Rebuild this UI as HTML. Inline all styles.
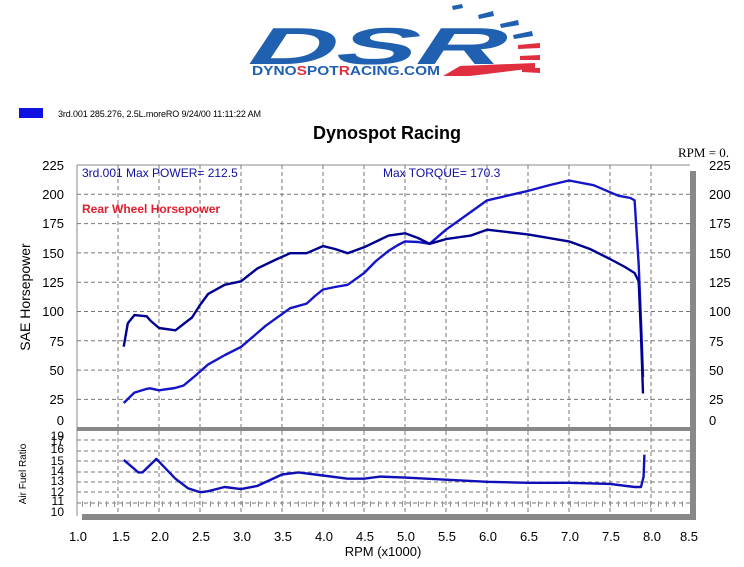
<!DOCTYPE html>
<html><head><meta charset="utf-8"><style>
html,body{margin:0;padding:0;background:#fff;}
svg{display:block;}
</style></head><body>
<svg width="744" height="567" viewBox="0 0 744 567" xmlns="http://www.w3.org/2000/svg" font-family="Liberation Sans, sans-serif">
<!-- logo -->
<g>
<text x="248" y="64" font-size="52" font-weight="bold" font-style="italic" fill="#2060b0" textLength="255" lengthAdjust="spacingAndGlyphs" transform="skewX(-12) translate(13,0)">DSR</text>
<text x="252" y="75" font-size="13" font-weight="bold" fill="#2060b0" textLength="188" lengthAdjust="spacingAndGlyphs">DYNO<tspan fill="#e03040">S</tspan>POT<tspan fill="#e03040">R</tspan>ACING.COM</text>
<polygon points="443,76 460,66 535,63 535,68 470,76" fill="#e03040"/>
<polygon points="452,6 462,4 463,8 453,10" fill="#2060b0"/>
<polygon points="478,15 493,11 494,16 479,19" fill="#2060b0"/>
<polygon points="500,24 518,20 519,25 501,28" fill="#2060b0"/>
<polygon points="513,35 532,31 533,36 514,39" fill="#2060b0"/>
<polygon points="518,45 540,43 540,48 518,49" fill="#e03040"/>
<polygon points="520,56 540,55 540,60 520,60" fill="#e03040"/>
<polygon points="522,68 540,68 540,73 522,72" fill="#e03040"/>
</g>
<!-- legend -->
<rect x="19" y="108" width="24" height="10" fill="#1010e0"/>
<text x="58" y="117" font-size="9" fill="#000" textLength="203" lengthAdjust="spacing">3rd.001  285.276, 2.5L.moreRO  9/24/00 11:11:22 AM</text>
<text x="387" y="139" font-size="18" font-weight="bold" text-anchor="middle" fill="#000">Dynospot Racing</text>
<text x="678" y="157" font-size="13" font-family="Liberation Serif, serif" fill="#000">RPM = 0.</text>

<!-- main grid -->
<g stroke="#777" stroke-width="1" stroke-dasharray="4,3" fill="none">
<line x1="77" y1="194.3" x2="690" y2="194.3"/><line x1="77" y1="223.6" x2="690" y2="223.6"/>
<line x1="77" y1="252.9" x2="690" y2="252.9"/><line x1="77" y1="282.2" x2="690" y2="282.2"/>
<line x1="77" y1="311.5" x2="690" y2="311.5"/><line x1="77" y1="340.8" x2="690" y2="340.8"/>
<line x1="77" y1="370.1" x2="690" y2="370.1"/><line x1="77" y1="399.4" x2="690" y2="399.4"/>
<line x1="118" y1="165" x2="118" y2="516"/><line x1="159" y1="165" x2="159" y2="516"/>
<line x1="200" y1="165" x2="200" y2="516"/><line x1="241" y1="165" x2="241" y2="516"/>
<line x1="282" y1="165" x2="282" y2="516"/><line x1="323" y1="165" x2="323" y2="516"/>
<line x1="364" y1="165" x2="364" y2="516"/><line x1="405" y1="165" x2="405" y2="516"/>
<line x1="446" y1="165" x2="446" y2="516"/><line x1="487" y1="165" x2="487" y2="516"/>
<line x1="528" y1="165" x2="528" y2="516"/><line x1="569" y1="165" x2="569" y2="516"/>
<line x1="610" y1="165" x2="610" y2="516"/><line x1="651" y1="165" x2="651" y2="516"/>
<!-- AFR grid -->
<line x1="77" y1="440" x2="690" y2="440"/><line x1="77" y1="451" x2="690" y2="451"/>
<line x1="77" y1="461" x2="690" y2="461"/><line x1="77" y1="472" x2="690" y2="472"/>
<line x1="77" y1="482" x2="690" y2="482"/><line x1="77" y1="492" x2="690" y2="492"/>
<line x1="77" y1="503" x2="690" y2="503"/>
</g>
<g stroke="#999" stroke-width="1" stroke-dasharray="1,7">
<line x1="82" y1="504" x2="690" y2="504" stroke-width="6"/>
</g>
<line x1="77" y1="165" x2="690" y2="165" stroke="#888"/>
<line x1="77" y1="165" x2="77" y2="516" stroke="#888"/>
<rect x="77" y="427" width="619" height="4" fill="#888"/>
<rect x="690" y="171" width="6" height="349" fill="#888"/>
<rect x="82" y="514" width="614" height="6" fill="#888"/>
<!-- left labels -->
<g font-size="13" fill="#000" text-anchor="end">
<text x="64" y="170">225</text><text x="64" y="199">200</text><text x="64" y="228">175</text>
<text x="64" y="258">150</text><text x="64" y="287">125</text><text x="64" y="316">100</text>
<text x="64" y="346">75</text><text x="64" y="375">50</text><text x="64" y="404">25</text>
<text x="64" y="425">0</text>
</g>
<g font-size="13" fill="#000" text-anchor="start">
<text x="709" y="170">225</text><text x="709" y="199">200</text><text x="709" y="228">175</text>
<text x="709" y="258">150</text><text x="709" y="287">125</text><text x="709" y="316">100</text>
<text x="709" y="346">75</text><text x="709" y="375">50</text><text x="709" y="404">25</text>
<text x="709" y="425">0</text>
</g>
<g font-size="12" fill="#000" text-anchor="end">
<text x="64" y="440">19</text><text x="64" y="445">17</text><text x="64" y="453">16</text>
<text x="64" y="465">15</text><text x="64" y="475">14</text><text x="64" y="485">13</text>
<text x="64" y="496">12</text><text x="64" y="505">11</text><text x="64" y="516">10</text>
</g>
<g font-size="13" fill="#000" text-anchor="middle">
<text x="78" y="541">1.0</text><text x="121" y="541">1.5</text><text x="160" y="541">2.0</text>
<text x="201" y="541">2.5</text><text x="242" y="541">3.0</text><text x="283" y="541">3.5</text>
<text x="324" y="541">4.0</text><text x="365" y="541">4.5</text><text x="406" y="541">5.0</text>
<text x="447" y="541">5.5</text><text x="488" y="541">6.0</text><text x="529" y="541">6.5</text>
<text x="570" y="541">7.0</text><text x="611" y="541">7.5</text><text x="652" y="541">8.0</text>
<text x="689" y="541">8.5</text>
<text x="383" y="556">RPM (x1000)</text>
</g>
<text transform="translate(30,297) rotate(-90)" font-size="14" text-anchor="middle">SAE Horsepower</text>
<text transform="translate(26,474) rotate(-90)" font-size="10" text-anchor="middle">Air Fuel Ratio</text>
<text x="82" y="177" font-size="12" fill="#1010a0">3rd.001  Max POWER= 212.5</text>
<text x="383" y="177" font-size="12" fill="#1010a0">Max TORQUE= 170.3</text>
<text x="82" y="213" font-size="12" font-weight="bold" fill="#e02030">Rear Wheel Horsepower</text>

<!-- curves -->
<g fill="none" stroke-width="2.4" stroke-linejoin="round">
<path stroke="#1414c8" d="M123.7,403 L128.8,398 L134.4,392.6 L145.9,389.1 L150,388.3 L159,390.3 L175,388 L183.6,385.5 L195,376 L208.2,364.4 L225,355 L241,346.9 L255,335 L265.6,325.8 L290.2,308.2 L306.6,303.6 L315,296 L323,289.5 L335,287 L347.6,284.8 L364,273.1 L376,261 L388.6,250.8 L398,245 L405,241.4 L418,242 L429.6,243.8 L446,229.7 L470.6,212.1 L487,200.4 L528,190.9 L550,185 L569,180.5 L593.6,185.2 L618.2,195.7 L630.5,198 L634.6,200.4 L638.7,264.8 L641.5,335 L643,377"/>
<path stroke="#000090" d="M123.7,346.7 L127.8,323.3 L134.4,315.1 L146.7,316.3 L150.8,321 L159,328 L175.4,330.3 L192,317.5 L200,305 L208.2,293.9 L224.6,284.8 L241,281.3 L257.4,268.4 L275,260 L290.2,253.2 L306.6,253.2 L323,246.1 L335,249 L347.6,253.2 L364,247.3 L388.6,235.6 L405,233.3 L418,238 L429.6,243.8 L446,239.1 L470.6,235.6 L487,229.7 L528,234.4 L569,241.4 L590,249 L610,259 L625,267 L634.6,273 L638.7,281.3 L641,335 L643,393.5"/>
<path stroke="#1010b8" d="M123.7,459.9 L138.4,472.4 L142.5,472.4 L156.4,458.9 L175.4,478.7 L187.7,488.1 L200,492.3 L208.2,491.2 L224.6,487 L241,489.1 L257.4,485.9 L282,474.5 L298.4,472.4 L323,475.5 L347.6,478.7 L364,478.7 L380.4,476.6 L405,477.6 L446,479.7 L487,481.8 L528,482.8 L569,482.8 L610,483.9 L634.6,487 L641,487 L643.6,476.6 L644.4,454.7"/>
</g>
</svg>
</body></html>
